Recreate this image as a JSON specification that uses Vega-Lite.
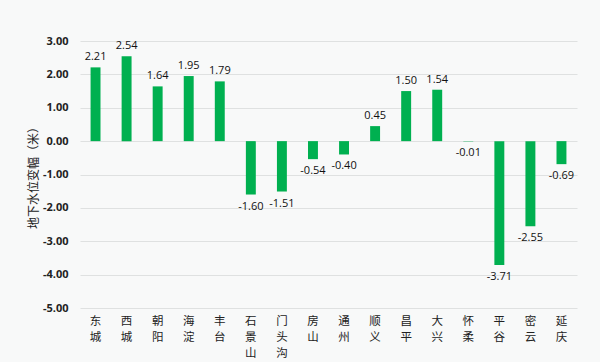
{
  "$schema": "https://vega.github.io/schema/vega-lite/v6.json",
  "width": 497,
  "height": 267,
  "autosize": {"type": "none"},
  "padding": {"left": 80, "top": 41, "right": 23, "bottom": 54},
  "background": "#f8f9f9",
  "config": {"view": {"stroke": null}},
  "data": {
    "values": [
      {"district": "东城", "v": 2.21},
      {"district": "西城", "v": 2.54},
      {"district": "朝阳", "v": 1.64},
      {"district": "海淀", "v": 1.95},
      {"district": "丰台", "v": 1.79},
      {"district": "石景山", "v": -1.60},
      {"district": "门头沟", "v": -1.51},
      {"district": "房山", "v": -0.54},
      {"district": "通州", "v": -0.40},
      {"district": "顺义", "v": 0.45},
      {"district": "昌平", "v": 1.50},
      {"district": "大兴", "v": 1.54},
      {"district": "怀柔", "v": -0.01},
      {"district": "平谷", "v": -3.71},
      {"district": "密云", "v": -2.55},
      {"district": "延庆", "v": -0.69}
    ]
  },
  "transform": [
    {"calculate": "replace(format(datum.v, '.2f'), '\u2212', '-')", "as": "lbl"}
  ],
  "encoding": {
    "x": {
      "field": "district",
      "type": "nominal",
      "sort": null,
      "scale": {"paddingInner": 0.68, "paddingOuter": 0.34},
      "axis": {
        "title": null,
        "labelAngle": 0,
        "labelExpr": "split(datum.label, '')",
        "labelFont": "Noto Sans CJK SC",
        "labelFontSize": 11.5,
        "labelColor": "#222222",
        "labelPadding": 7,
        "labelLineHeight": 16,
        "ticks": false,
        "domain": false,
        "labelBaseline": "top"
      }
    },
    "y": {
      "field": "v",
      "type": "quantitative",
      "scale": {"domain": [-5, 3], "nice": false},
      "axis": {
        "title": "地下水位变幅（米）",
        "titleFont": "Noto Sans CJK SC",
        "titleFontSize": 12,
        "titleFontWeight": "normal",
        "titleColor": "#222222",
        "titlePadding": 2,
        "values": [-5, -4, -3, -2, -1, 0, 1, 2, 3],
        "labelExpr": "replace(format(datum.value, '.2f'), '\u2212', '-')",
        "labelFont": "Open Sans",
        "labelFontSize": 11,
        "labelFontWeight": "bold",
        "labelColor": "#222222",
        "labelPadding": 12,
        "ticks": false,
        "domain": false,
        "gridColor": "#dfe1e1",
        "gridWidth": 1
      }
    }
  },
  "layer": [
    {"mark": {"type": "bar", "color": "#00b050"}},
    {
      "transform": [{"filter": "datum.v >= 0"}],
      "mark": {"type": "text", "baseline": "bottom", "dy": -5, "font": "Open Sans", "fontSize": 11, "color": "#111111"},
      "encoding": {"text": {"field": "lbl", "type": "nominal"}}
    },
    {
      "transform": [{"filter": "datum.v < 0"}],
      "mark": {"type": "text", "baseline": "top", "dy": 6, "font": "Open Sans", "fontSize": 11, "color": "#111111"},
      "encoding": {"text": {"field": "lbl", "type": "nominal"}}
    }
  ]
}
